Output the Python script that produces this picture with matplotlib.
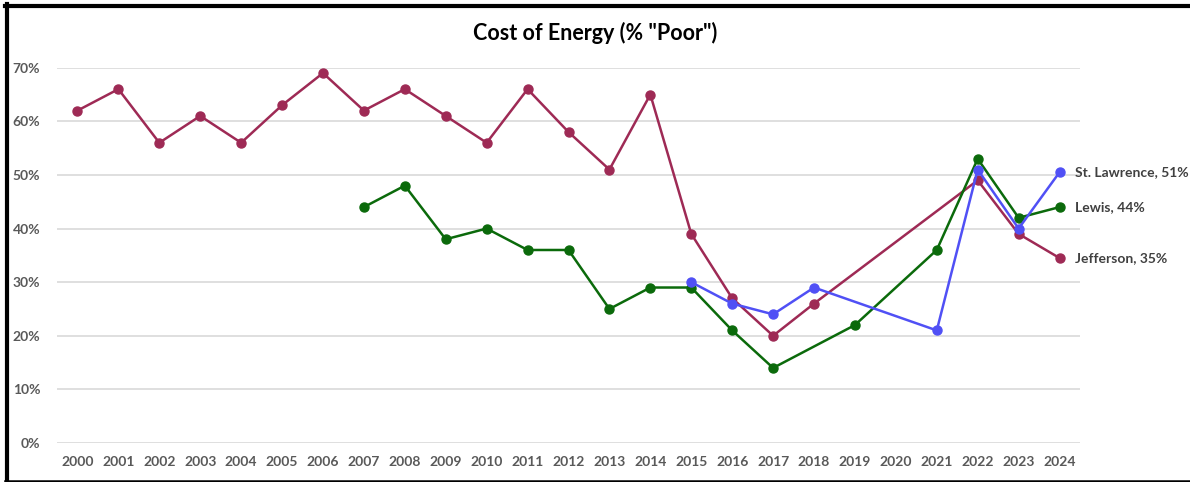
import matplotlib.pyplot as plt
from matplotlib.lines import Line2D
from matplotlib.ticker import FuncFormatter

plt.rcParams['font.family'] = ['Lato', 'DejaVu Sans']

years = list(range(2000, 2025))

# values in %, None = no survey that year
jefferson = [62, 66, 56, 61, 56, 63, 69, 62, 66, 61, 56, 66, 58, 51, 65,
             39, 27, 20, 26, None, None, None, 49, 39, 34.5]
lewis = [None, None, None, None, None, None, None, 44, 48, 38, 40, 36, 36, 25, 29,
         29, 21, 14, None, 22, None, 36, 53, 42, 44]
st_lawrence = [None] * 15 + [30, 26, 24, 29, None, None, 21, 51, 40, 50.5]

series = [
    ("Jefferson", jefferson, "#9E2A55", "Jefferson, 35%"),
    ("Lewis", lewis, "#0B6A0B", "Lewis, 44%"),
    ("St. Lawrence", st_lawrence, "#5050F5", "St. Lawrence, 51%"),
]

fig = plt.figure(figsize=(11.9, 4.82), dpi=100)
ax = fig.add_axes([57 / 1190, 1 - 443 / 482, (1080 - 57) / 1190, (443 - 67.7) / 482])

for name, vals, color, label in series:
    xs = [i for i, v in enumerate(vals) if v is not None]
    ys = [v / 100 for v in vals if v is not None]
    ax.plot(xs, ys, color=color, lw=1.8, marker="o", ms=6.5, clip_on=False, zorder=3)
    ax.annotate(label, (xs[-1], ys[-1]), xytext=(11, 0), textcoords="offset points",
                va="center", ha="left", fontsize=10, fontweight="bold", color="#404040",
                annotation_clip=False)

ax.set_xlim(-0.5, len(years) - 0.5)
ax.set_ylim(0, 0.70)
ax.set_xticks(range(len(years)))
ax.set_xticklabels([str(y) for y in years])
ax.set_yticks([i / 10 for i in range(8)])
ax.yaxis.set_major_formatter(FuncFormatter(lambda v, p: f"{v * 100:.0f}%"))
ax.grid(axis="y", color="#D9D9D9", lw=1.2)
ax.set_axisbelow(True)
for s in ax.spines.values():
    s.set_visible(False)
ax.tick_params(length=0, labelsize=10, labelcolor="#595959", pad=9)
ax.tick_params(axis="y", pad=12)
for lab in ax.get_xticklabels() + ax.get_yticklabels():
    lab.set_fontweight("bold")

fig.text(0.5, 1 - 33 / 482, 'Cost of Energy (% "Poor")', ha="center", va="center",
         fontsize=15.5, fontweight="bold", color="black")

# chart frame
fig.add_artist(Line2D([6.5 / 1190, 6.5 / 1190], [0, 1 - 4 / 482], color="black", lw=3, transform=fig.transFigure))
fig.add_artist(Line2D([5 / 1190, 1], [1 - 5.5 / 482, 1 - 5.5 / 482], color="black", lw=3, transform=fig.transFigure))
fig.add_artist(Line2D([5 / 1190, 1], [1.2 / 482, 1.2 / 482], color="black", lw=1.8, transform=fig.transFigure))

fig.savefig("out.png", dpi=100)
